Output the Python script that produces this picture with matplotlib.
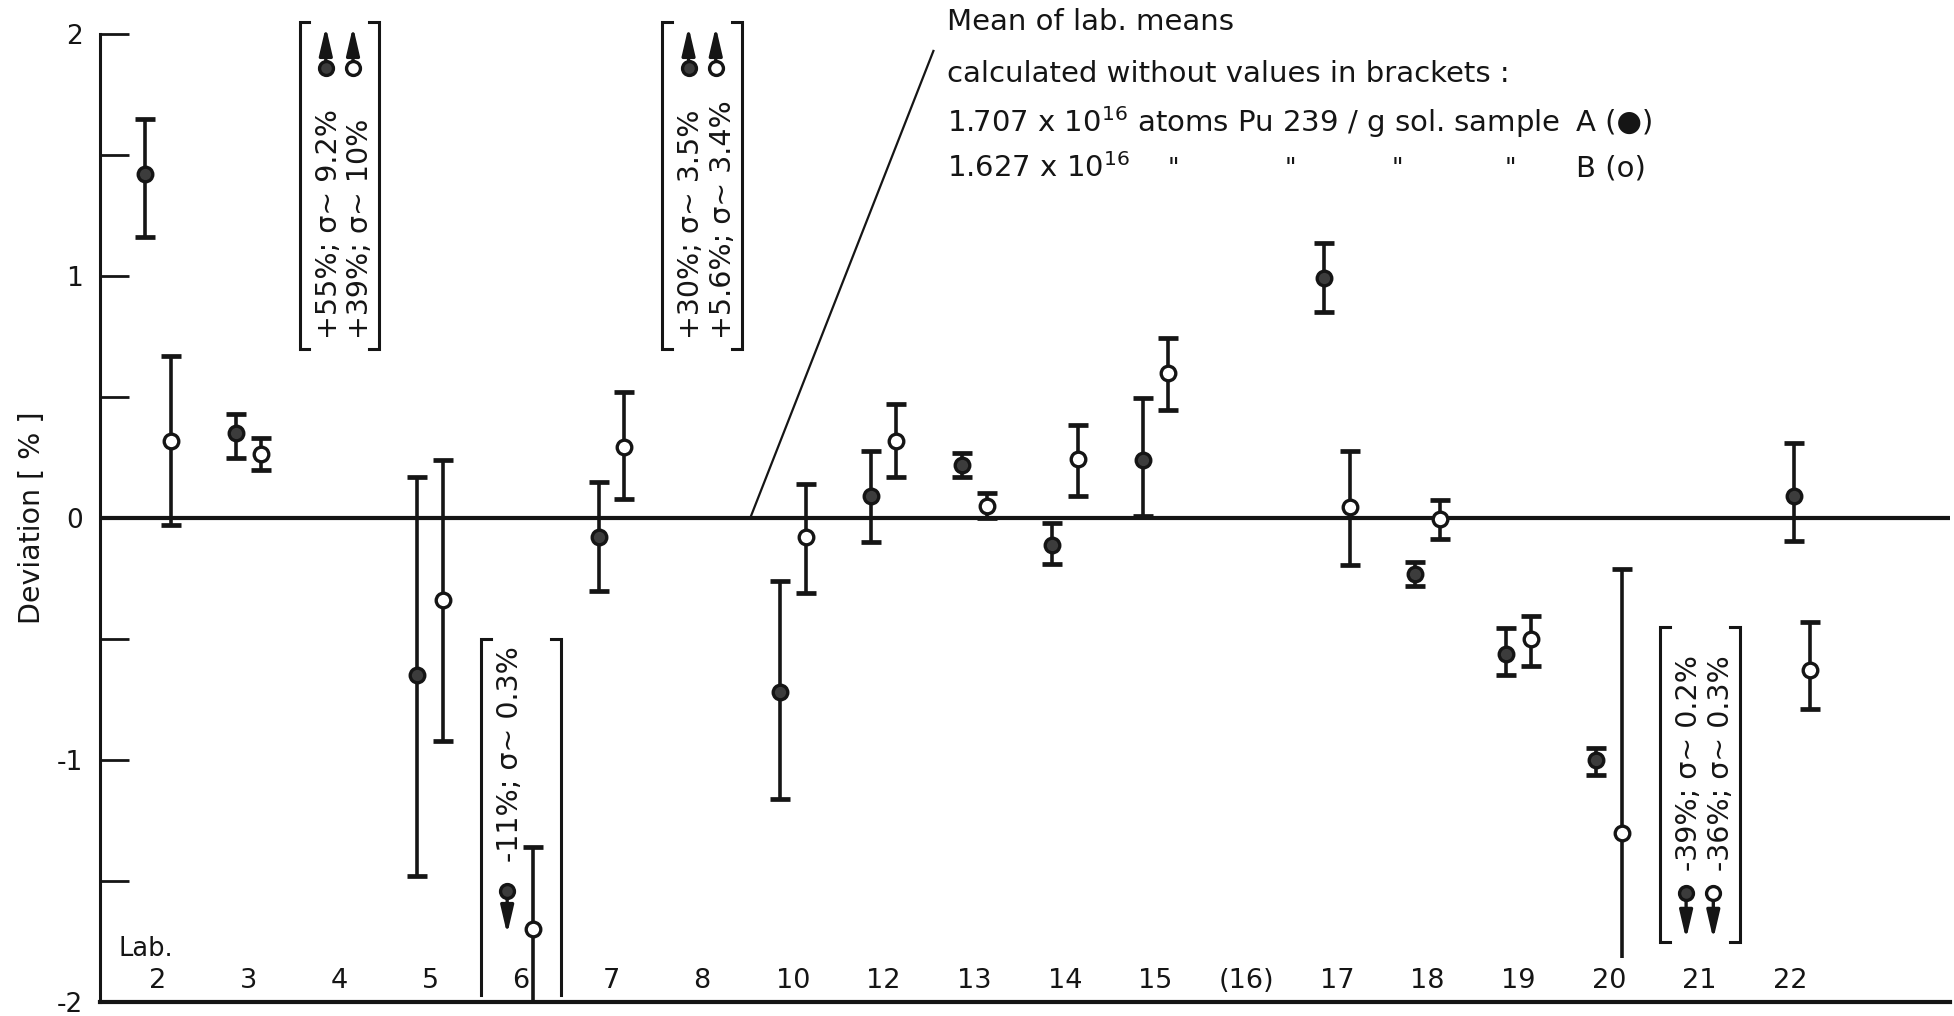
import numpy as np
import matplotlib.pyplot as plt

plt.rcParams['font.family'] = ['DejaVu Sans']
plt.rcParams['axes.unicode_minus'] = False

ink = '#151515'

# laboratories along the x axis
labs = ['2', '3', '4', '5', '6', '7', '8', '10', '12', '13', '14', '15', '(16)',
        '17', '18', '19', '20', '21', '22']

nan = np.nan
# sample A (filled circles): lab mean and error bar ends, deviation in %
a_mean = [1.42, 0.35, nan, -0.65, nan, -0.08, nan, -0.72, 0.09, 0.22, -0.11, 0.24, nan,
          0.99, -0.23, -0.56, -1.00, nan, 0.09]
a_low = [1.16, 0.25, nan, -1.48, nan, -0.30, nan, -1.16, -0.10, 0.17, -0.19, 0.01, nan,
         0.85, -0.28, -0.65, -1.06, nan, -0.095]
a_high = [1.65, 0.43, nan, 0.17, nan, 0.15, nan, -0.26, 0.275, 0.27, -0.02, 0.495, nan,
          1.135, -0.18, -0.455, -0.95, nan, 0.31]

# sample B (open circles)
b_mean = [0.32, 0.265, nan, -0.34, -1.70, 0.295, nan, -0.08, 0.32, 0.05, 0.245, 0.60, nan,
          0.045, -0.005, -0.50, -1.30, nan, -0.63]
b_low = [-0.03, 0.20, nan, -0.92, -2.05, 0.08, nan, -0.31, 0.17, 0.0, 0.09, 0.445, nan,
         -0.195, -0.085, -0.61, -1.82, nan, -0.79]
b_high = [0.67, 0.33, nan, 0.24, -1.36, 0.52, nan, 0.14, 0.47, 0.105, 0.385, 0.745, nan,
          0.275, 0.075, -0.405, -0.21, nan, -0.43]
b_open_low = ['6', '20']   # bars drawn without a lower cap

# values off the scale, shown in brackets
off_labs = ['4', '8', '6', '21']
off_a_text = ['+55%; σ~ 9.2%', '+30%; σ~ 3.5%', '-11%; σ~ 0.3%', '-39%; σ~ 0.2%']
off_b_text = ['+39%; σ~ 10%', '+5.6%; σ~ 3.4%', '', '-36%; σ~ 0.3%']

mean_a = '1.707'
mean_b = '1.627'

fig = plt.figure(figsize=(19.54, 10.16), dpi=100)
ax = fig.add_axes([100 / 1954, 14 / 1016, 1850 / 1954, 968 / 1016])
ax.set_xlim(-0.64, 19.76)
ax.set_ylim(-2, 2)

x = np.arange(len(labs), dtype=float)
xa = x - 0.14
xb = x + 0.14
# lab 22 is drawn slightly to the right in the original
k = labs.index('22')
xa[k] += 0.18
xb[k] += 0.08


def draw_series(xs, mean, low, high, face, open_low):
    mean, low, high = np.array(mean), np.array(low), np.array(high)
    ok = ~np.isnan(mean)
    ax.vlines(xs[ok], low[ok], high[ok], color=ink, lw=2.6, zorder=3)
    ax.plot(xs[ok], high[ok], ls='none', marker='_', ms=14, mew=3.4, color=ink, zorder=3)
    cap = ok & ~np.isin(labs, open_low)
    ax.plot(xs[cap], low[cap], ls='none', marker='_', ms=14, mew=3.4, color=ink, zorder=3)
    ax.plot(xs[ok], mean[ok], ls='none', marker='o', ms=10.5, mfc=face, mec=ink,
            mew=2.4, zorder=4)


draw_series(xa, a_mean, a_low, a_high, '#3c3c3c', [])
draw_series(xb, b_mean, b_low, b_high, 'white', b_open_low)

# zero line (mean of lab means)
ax.axhline(0, color=ink, lw=3, zorder=2)

# bracket boxes for off-scale values
box_layout = {
    '4': dict(top=2.05, bottom=0.70, circ=1.86, tip=2.03, text=0.74, serif_low=True),
    '8': dict(top=2.05, bottom=0.70, circ=1.86, tip=2.03, text=0.74, serif_low=True),
    '6': dict(top=-0.50, bottom=-1.97, circ=-1.54, tip=-1.72, text=-1.42, serif_low=False),
    '21': dict(top=-0.45, bottom=-1.75, circ=-1.55, tip=-1.74, text=-1.46, serif_low=True),
}
for lab, ta, tb in zip(off_labs, off_a_text, off_b_text):
    i = labs.index(lab)
    L = box_layout[lab]
    w, s = 0.44, 0.11
    for side in (-1, 1):
        xe = i + side * w
        px = [xe - side * s, xe, xe]
        py = [L['top'], L['top'], L['bottom']]
        if L['serif_low']:
            px.append(xe - side * s)
            py.append(L['bottom'])
        ax.plot(px, py, color=ink, lw=2.2, clip_on=False, solid_joinstyle='miter')
    ax.text(i - 0.12, L['text'], ta, rotation=90, ha='center', va='bottom', fontsize=20.5,
            color=ink)
    if tb:
        ax.text(i + 0.23, L['text'], tb, rotation=90, ha='center', va='bottom', fontsize=20.5,
                color=ink)
    arrows = [(i - 0.15, '#3c3c3c')]
    if tb:
        arrows.append((i + 0.15, 'white'))
    for xo, face in arrows:
        ax.annotate('', xy=(xo, L['tip']), xytext=(xo, L['circ']), annotation_clip=False,
                    arrowprops=dict(arrowstyle='-|>,head_length=1.2,head_width=0.28',
                                    lw=2.4, color=ink, shrinkA=0, shrinkB=0,
                                    mutation_scale=14))
        ax.plot(xo, L['circ'], marker='o', ms=10, mfc=face, mec=ink, mew=2.4,
                clip_on=False, zorder=5)

# pointer to the mean line and its legend
ax.plot([6.53, 8.55], [0, 1.93], color=ink, lw=1.6, clip_on=False)
ax.text(8.70, 2.05, 'Mean of lab. means', fontsize=21, va='center', color=ink)
ax.text(8.70, 1.835, 'calculated without values in brackets :', fontsize=21, va='center',
        color=ink)
ax.text(8.70, 1.635, mean_a + ' x 10$^{16}$ atoms Pu 239 / g sol. sample', fontsize=21,
        va='center', color=ink)
ax.text(15.64, 1.635, 'A (●)', fontsize=21, va='center', color=ink)
ax.text(8.70, 1.445, mean_b + ' x 10$^{16}$', fontsize=21, va='center', color=ink)
for xd in [11.2, 12.49, 13.67, 14.91]:
    ax.text(xd, 1.445, '"', fontsize=18, va='center', ha='center', color=ink)
ax.text(15.64, 1.445, 'B (o)', fontsize=21, va='center', color=ink)

# lab numbers
for i, lab in enumerate(labs):
    ax.text(i, -1.915, lab, ha='center', va='center', fontsize=19.5, color=ink)
ax.text(-0.13, -1.78, 'Lab.', ha='center', va='center', fontsize=18.5, color=ink)

# axes styling
for side in ('top', 'right'):
    ax.spines[side].set_visible(False)
ax.spines['left'].set_linewidth(2.2)
ax.spines['bottom'].set_linewidth(3)
ax.spines['left'].set_color(ink)
ax.spines['bottom'].set_color(ink)
ax.set_xticks([])
ax.set_yticks(np.arange(-2, 2.01, 0.5))
ax.set_yticklabels(['-2', '', '-1', '', '0', '', '1', '', '2'])
ax.tick_params(axis='y', direction='in', length=21, width=2, pad=12, labelsize=19,
               colors=ink)
ax.set_ylabel('Deviation [ % ]', fontsize=20.5, color=ink)
ax.yaxis.set_label_coords(-0.029, 0.5)

fig.savefig('out.png', dpi=100)
